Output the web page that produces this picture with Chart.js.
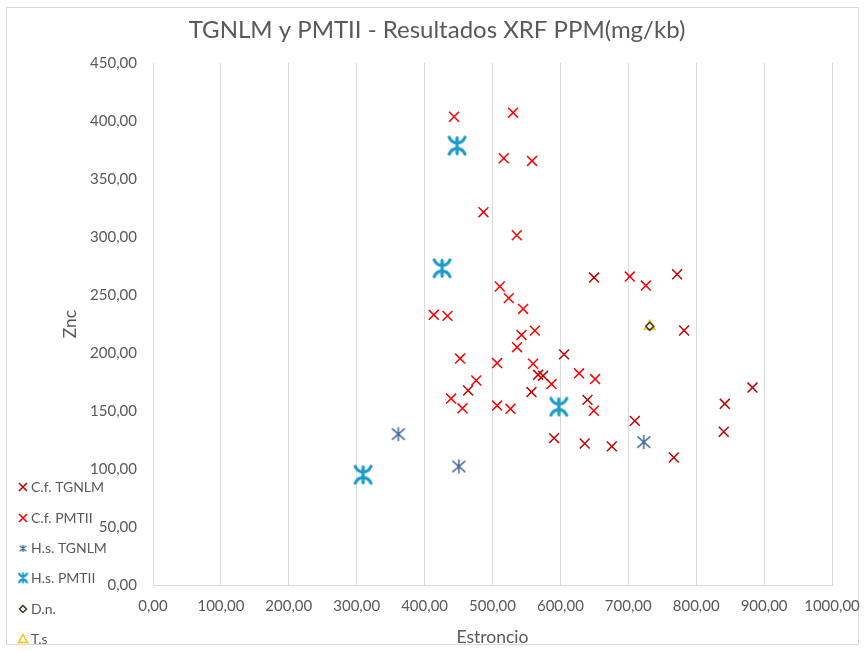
<!DOCTYPE html>
<html><head><meta charset="utf-8">
<script src="https://cdn.jsdelivr.net/npm/chart.js@4/dist/chart.umd.min.js"></script>
<style>html,body{margin:0;padding:0;background:#fff;}#wrap{width:865px;height:651px;}</style>
</head><body><div id="wrap"><canvas id="c" width="865" height="651"></canvas></div>
<script>
// ---- data ----
const titleText = 'TGNLM y PMTII - Resultados XRF PPM(mg/kb)';
const xTitle = 'Estroncio';
const yTitle = 'Znc';
const seriesNames = ['C.f. TGNLM', 'C.f. PMTII', 'H.s. TGNLM', 'H.s. PMTII', 'D.n.', 'T.s'];

const cfTGNLM_x = [649.6, 771.9, 782.2, 605.4, 567.2, 574.5, 464.1, 557.4, 639.9, 709.6, 882.9, 842.1, 840.6, 590.7, 635.8, 675.7, 767.0];
const cfTGNLM_y = [265.0, 267.9, 219.4, 198.8, 181.2, 180.3, 167.7, 166.3, 159.6, 141.5, 170.2, 156.2, 132.1, 126.6, 122.0, 119.5, 109.9];

const cfPMTII_x = [443.4, 530.3, 516.6, 558.3, 486.7, 535.8, 510.7, 524.0, 545.1, 702.2, 725.8, 413.5, 433.7, 542.7, 562.3, 536.2, 452.3, 506.8, 559.8, 586.9, 627.5, 651.1, 476.1, 439.0, 455.8, 506.8, 526.5, 649.2];
const cfPMTII_y = [403.7, 407.2, 367.9, 365.6, 321.4, 301.5, 257.3, 247.3, 238.0, 265.9, 258.1, 232.9, 232.0, 215.6, 219.3, 205.0, 195.2, 191.3, 190.7, 173.2, 182.5, 177.5, 176.3, 160.7, 152.3, 154.7, 151.9, 150.2];

const hsTGNLM_x = [361.3, 450.4, 722.8];
const hsTGNLM_y = [130.1, 102.2, 123.2];

const hsPMTII_x = [447.9, 425.8, 597.6, 309.4];
const hsPMTII_y = [378.7, 273.1, 153.6, 95.0];

const dn_x = [731.6];
const dn_y = [223.0];

const ts_x = [731.6];
const ts_y = [223.0];

const xTicksMin = 0, xTicksMax = 1000, xStep = 100;
const yTicksMin = 0, yTicksMax = 450, yStep = 50;

// ---- styles ----
const FONT = 'Lato, "Open Sans", sans-serif';
const TXT = '#595959';
const GRID = '#D9D9D9';
const C_DARKRED = '#C00000', C_RED = '#FF0000', C_STEEL = '#46699C', C_CYAN = '#1D9BCB', C_DN = '#3A3A2A', C_TS = '#FFC000';

function pts(xs, ys){ return xs.map((x,i)=>({x:x, y:ys[i]})); }

function makeStar(size, color, lw){
  const c=document.createElement('canvas'); c.width=c.height=size;
  const g=c.getContext('2d'); g.strokeStyle=color; g.lineWidth=lw; g.lineCap='butt';
  const m=size/2, r=size/2-1;
  g.beginPath();
  g.moveTo(m, m-r); g.lineTo(m, m+r);
  g.moveTo(m-0.92*r, m-0.8*r); g.lineTo(m+0.92*r, m+0.8*r);
  g.moveTo(m+0.92*r, m-0.8*r); g.lineTo(m-0.92*r, m+0.8*r);
  g.stroke();
  return c;
}
function makeYaz(w, h, color, lw){
  const c=document.createElement('canvas'); c.width=w; c.height=h;
  const g=c.getContext('2d'); g.strokeStyle=color; g.lineWidth=lw; g.lineCap='round';
  const m=w/2;
  g.beginPath();
  g.moveTo(lw/2+0.5, lw/2+0.5);
  g.quadraticCurveTo(w*0.25, h*0.38, m, h*0.36);
  g.quadraticCurveTo(w*0.75, h*0.38, w-lw/2-0.5, lw/2+0.5);
  g.moveTo(lw/2+0.5, h-lw/2-0.5);
  g.quadraticCurveTo(w*0.25, h*0.62, m, h*0.64);
  g.quadraticCurveTo(w*0.75, h*0.62, w-lw/2-0.5, h-lw/2-0.5);
  g.moveTo(m, h*0.12); g.lineTo(m, h*0.88);
  g.stroke();
  return c;
}
const starImg = makeStar(16, C_STEEL, 1.5);
const yazImg = makeYaz(20, 21, C_CYAN, 3.2);
const starLeg = makeStar(9, C_STEEL, 1.3);
const yazLeg = makeYaz(11, 12, C_CYAN, 2.2);

const fmt = v => Number(v).toFixed(2).replace('.', ',');

const decor = {
  id: 'decor',
  beforeDraw(chart){
    const g = chart.ctx;
    g.save();
    g.fillStyle = '#fff'; g.fillRect(0,0,chart.width,chart.height);
    g.strokeStyle = GRID; g.lineWidth = 1;
    g.strokeRect(6.5, 7.5, 852, 637);
    g.fillStyle = TXT; g.font = '24px ' + FONT; g.textAlign='center'; g.textBaseline='middle';
    g.fillText(titleText, 437, 30);
    g.restore();
  },
  afterDraw(chart){
    const g = chart.ctx;
    g.save();
    const ys = [487, 518, 548.5, 578, 609, 639];
    const mx = 23, tx = 31;
    g.font = '14px ' + FONT; g.fillStyle = TXT; g.textAlign='left'; g.textBaseline='middle';
    seriesNames.forEach((n,i)=>{
      const y = ys[i];
      g.fillStyle = TXT; g.fillText(n, tx, y);
      if (i === 0 || i === 1){
        g.strokeStyle = i===0 ? C_DARKRED : C_RED; g.lineWidth = 1.6;
        g.beginPath(); g.moveTo(mx-4,y-4); g.lineTo(mx+4,y+4); g.moveTo(mx+4,y-4); g.lineTo(mx-4,y+4); g.stroke();
      } else if (i === 2){
        g.drawImage(starLeg, mx-4.5, y-4.5);
      } else if (i === 3){
        g.drawImage(yazLeg, mx-5.5, y-6);
      } else if (i === 4){
        g.strokeStyle = C_DN; g.lineWidth = 1.5;
        g.beginPath(); g.moveTo(mx, y-3.5); g.lineTo(mx+3.5, y); g.lineTo(mx, y+3.5); g.lineTo(mx-3.5, y); g.closePath(); g.stroke();
      } else {
        g.strokeStyle = C_TS; g.lineWidth = 1.5;
        g.beginPath(); g.moveTo(mx, y-4.5); g.lineTo(mx+4.5, y+3.5); g.lineTo(mx-4.5, y+3.5); g.closePath(); g.stroke();
      }
    });
    g.restore();
  }
};

new Chart(document.getElementById('c'), {
  type: 'scatter',
  data: {
    datasets: [
      { label: seriesNames[0], data: pts(cfTGNLM_x, cfTGNLM_y), pointStyle: 'crossRot', pointRadius: 7, pointHoverRadius: 7, borderColor: C_DARKRED, backgroundColor: C_DARKRED, pointBorderWidth: 1.5 },
      { label: seriesNames[1], data: pts(cfPMTII_x, cfPMTII_y), pointStyle: 'crossRot', pointRadius: 7, pointHoverRadius: 7, borderColor: C_RED, backgroundColor: C_RED, pointBorderWidth: 1.5 },
      { label: seriesNames[2], data: pts(hsTGNLM_x, hsTGNLM_y), pointStyle: starImg, pointRadius: 8, borderColor: C_STEEL, backgroundColor: C_STEEL },
      { label: seriesNames[3], data: pts(hsPMTII_x, hsPMTII_y), pointStyle: yazImg, pointRadius: 10, borderColor: C_CYAN, backgroundColor: C_CYAN },
      { label: seriesNames[4], data: pts(dn_x, dn_y), pointStyle: 'rectRot', pointRadius: 4, borderColor: C_DN, backgroundColor: 'rgba(0,0,0,0)', pointBorderWidth: 1.5 },
      { label: seriesNames[5], data: pts(ts_x, ts_y), pointStyle: 'triangle', pointRadius: 6, borderColor: C_TS, backgroundColor: 'rgba(0,0,0,0)', pointBorderWidth: 1.5 }
    ]
  },
  options: {
    responsive: false,
    animation: false,
    events: [],
    layout: { padding: { top: 63, right: 33, bottom: 0, left: 0 } },
    plugins: { legend: { display: false }, title: { display: false }, tooltip: { enabled: false } },
    scales: {
      x: {
        type: 'linear', min: xTicksMin, max: xTicksMax,
        ticks: { stepSize: xStep, callback: fmt, color: TXT, font: { family: FONT, size: 15 }, padding: 12, maxRotation: 0, autoSkip: false },
        grid: { color: GRID, lineWidth: 1, drawTicks: false },
        border: { display: true, color: GRID, width: 1 },
        title: { display: true, text: xTitle, color: TXT, font: { family: FONT, size: 17.5 }, padding: { top: 0, bottom: 3.5 } },
        afterFit(s){ s.height = 66; s.paddingLeft = 0; s.paddingRight = 0; }
      },
      y: {
        type: 'linear', min: yTicksMin, max: yTicksMax,
        ticks: { stepSize: yStep, callback: fmt, color: TXT, font: { family: FONT, size: 15 }, padding: 16 },
        grid: { display: false, drawTicks: false },
        border: { display: false },
        title: { display: true, text: yTitle, color: TXT, font: { family: FONT, size: 17.5 }, padding: { top: 59.5, bottom: 0 } },
        afterFit(s){ s.width = 153; s.paddingTop = 0; s.paddingBottom = 0; }
      }
    }
  },
  plugins: [decor]
});
</script>
</body></html>
